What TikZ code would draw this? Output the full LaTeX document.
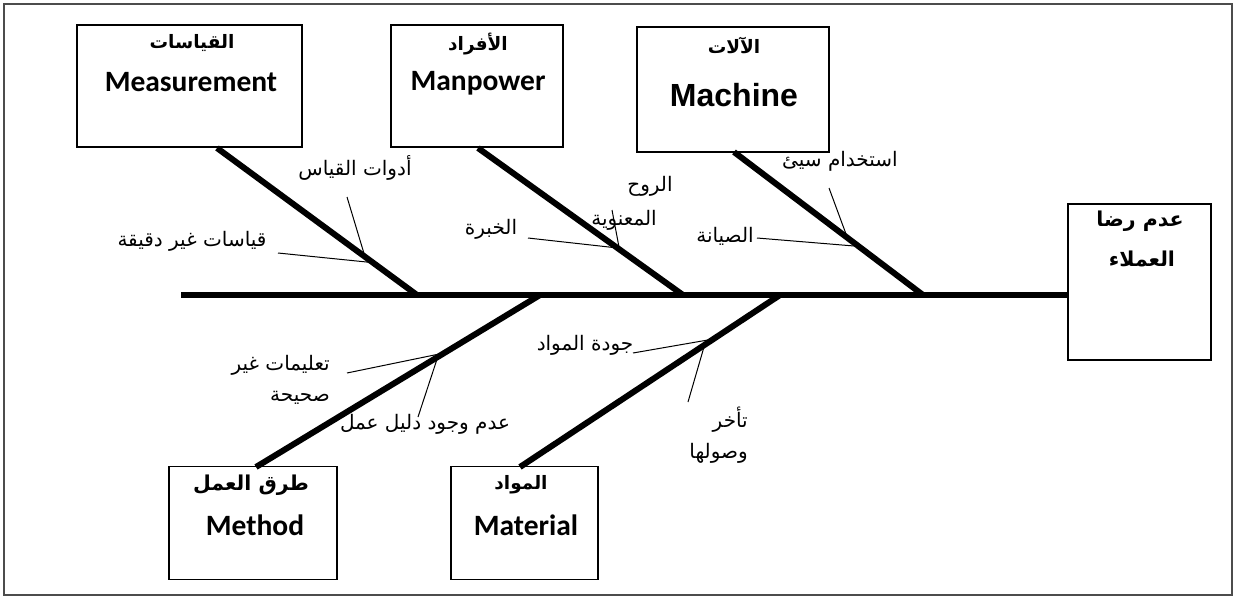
\documentclass[tikz,border=0pt]{standalone}
\usepackage{fontspec}
\usetikzlibrary{calc}
\TeXXeTstate=1
\newfontfamily\arabicfont[Script=Arabic]{DejaVu Sans}
\newfontfamily\carlito{Carlito}
\newfontfamily\arialfont{Liberation Sans}

\tikzset{
  catbox/.style={draw=black, line width=1.4pt, rectangle, inner sep=0pt},
  bone/.style={line width=6pt},
  twig/.style={line width=1pt},
  lbl/.style={font=\arabicfont\fontsize{20}{24}\selectfont, inner sep=0pt},
  head/.style={font=\arabicfont\bfseries\fontsize{18.5}{22}\selectfont, inner sep=0pt},
  headbig/.style={font=\arabicfont\bfseries\fontsize{20.5}{24}\selectfont, inner sep=0pt},
  eng/.style={font=\carlito\bfseries\fontsize{29.5}{34}\selectfont, inner sep=0pt},
  engbig/.style={font=\arialfont\bfseries\fontsize{32}{36}\selectfont, inner sep=0pt},
}

\begin{document}
\begin{tikzpicture}[x=1pt,y=-1pt]
\useasboundingbox (0,0) rectangle (1235,597);
% outer frame
\draw[line width=1.5pt, draw=black!70] (4,4) rectangle (1232,595);

% category boxes and effect box
\node[catbox, minimum width=225pt, minimum height=122pt] (meas) at (189.5,86) {};
\node[catbox, minimum width=172pt, minimum height=122pt] (man) at (477,86) {};
\node[catbox, minimum width=192pt, minimum height=125pt] (mach) at (733,89.5) {};
\node[catbox, minimum width=143pt, minimum height=156pt] (effect) at (1139.5,282) {};
\node[catbox, minimum width=168pt, minimum height=113pt] (meth) at (253,523) {};
\node[catbox, minimum width=147pt, minimum height=113pt] (mat) at (524.5,523) {};

% box titles
\node[head] (measAr) at (192,43) {\beginR القياسات\endR};
\node[eng] (measEn) at (191,82) {Measurement};
\node[head] (manAr) at (478,44) {\beginR الأفراد\endR};
\node[eng] (manEn) at (478,83) {Manpower};
\node[head] (machAr) at (734,45) {\beginR الآلات\endR};
\node[engbig] (machEn) at (734,95) {Machine};
\node[headbig] (methAr) at (251,485) {\beginR طرق العمل\endR};
\node[eng] (methEn) at (255,525) {Method};
\node[head] (matAr) at (521,485) {\beginR المواد\endR};
\node[eng] (matEn) at (526,525) {Material};
\node[headbig] (effAr1) at (1140,221) {\beginR عدم رضا\endR};
\node[headbig] (effAr2) at (1142,259) {\beginR العملاء\endR};

% cause labels (set before the bones, which pass over them)
\node[lbl] (tools) at (355,168) {\beginR أدوات القياس\endR};
\node[lbl] (inacc) at (192,241) {\beginR قياسات غير دقيقة\endR};
\node[lbl] (spirit) at (650,186) {\beginR الروح\endR};
\node[lbl, anchor=east] (morale) at (657,220) {\beginR المعنوية\endR};
\node[lbl] (exper) at (491,229) {\beginR الخبرة\endR};
\node[lbl] (maint) at (725,236) {\beginR الصيانة\endR};
\node[lbl] (misuse) at (840,161) {\beginR استخدام سيئ\endR};
\node[lbl, anchor=east] (instr1) at (330,365) {\beginR تعليمات غير\endR};
\node[lbl, anchor=east] (instr2) at (330,398) {\beginR صحيحة\endR};
\node[lbl] (guide) at (425,424) {\beginR عدم وجود دليل عمل\endR};
\node[lbl] (qual) at (585,345) {\beginR جودة المواد\endR};
\node[lbl, anchor=east] (late1) at (748,420) {\beginR تأخر\endR};
\node[lbl, anchor=east] (late2) at (748,453) {\beginR وصولها\endR};

% spine
\coordinate (tail) at (181,295);
\draw[bone] (tail) -- (tail -| effect.west);

% main bones
\coordinate (mT) at (217,148);  \coordinate (mB) at (417,295);
\coordinate (pT) at (478,148);  \coordinate (pB) at (683,295);
\coordinate (cT) at (734,152);  \coordinate (cB) at (923,295);
\coordinate (dT) at (540,295);  \coordinate (dB) at (256,467);
\coordinate (aT) at (780,295);  \coordinate (aB) at (520,467);
\draw[bone] (mT) -- (mB);
\draw[bone] (pT) -- (pB);
\draw[bone] (cT) -- (cB);
\draw[bone] (dT) -- (dB);
\draw[bone] (aT) -- (aB);

% points on the bones where the causes attach
\coordinate (m1) at ($(mT)!0.78!(mB)$);
\coordinate (m2) at ($(mT)!0.74!(mB)$);
\coordinate (p1) at ($(pT)!0.68!(pB)$);
\coordinate (p2) at ($(pT)!0.69!(pB)$);
\coordinate (c1) at ($(cT)!0.66!(cB)$);
\coordinate (c2) at ($(cT)!0.60!(cB)$);
\coordinate (d1) at ($(dT)!0.337!(dB)$);
\coordinate (d2) at ($(dT)!0.36!(dB)$);
\coordinate (a1) at ($(aT)!0.256!(aB)$);
\coordinate (a2) at ($(aT)!0.29!(aB)$);

% free ends of the cause lines
\coordinate (inaccE) at (278,253);
\coordinate (toolsE) at (347,197);
\coordinate (experE) at (528,238);
\coordinate (moraleE) at (612,210);
\coordinate (maintE) at (757,238);
\coordinate (misuseE) at (829,188);
\coordinate (instrE) at (347,373);
\coordinate (guideE) at (418,417);
\coordinate (qualE) at (633,353);
\coordinate (lateE) at (688,402);

% cause lines
\draw[twig] (inaccE) -- (m1);
\draw[twig] (toolsE) -- (m2);
\draw[twig] (experE) -- (p1);
\draw[twig] (moraleE) -- (p2);
\draw[twig] (maintE) -- (c1);
\draw[twig] (misuseE) -- (c2);
\draw[twig] (instrE) -- (d1);
\draw[twig] (guideE) -- (d2);
\draw[twig] (qualE) -- (a1);
\draw[twig] (lateE) -- (a2);
\end{tikzpicture}
\end{document}
